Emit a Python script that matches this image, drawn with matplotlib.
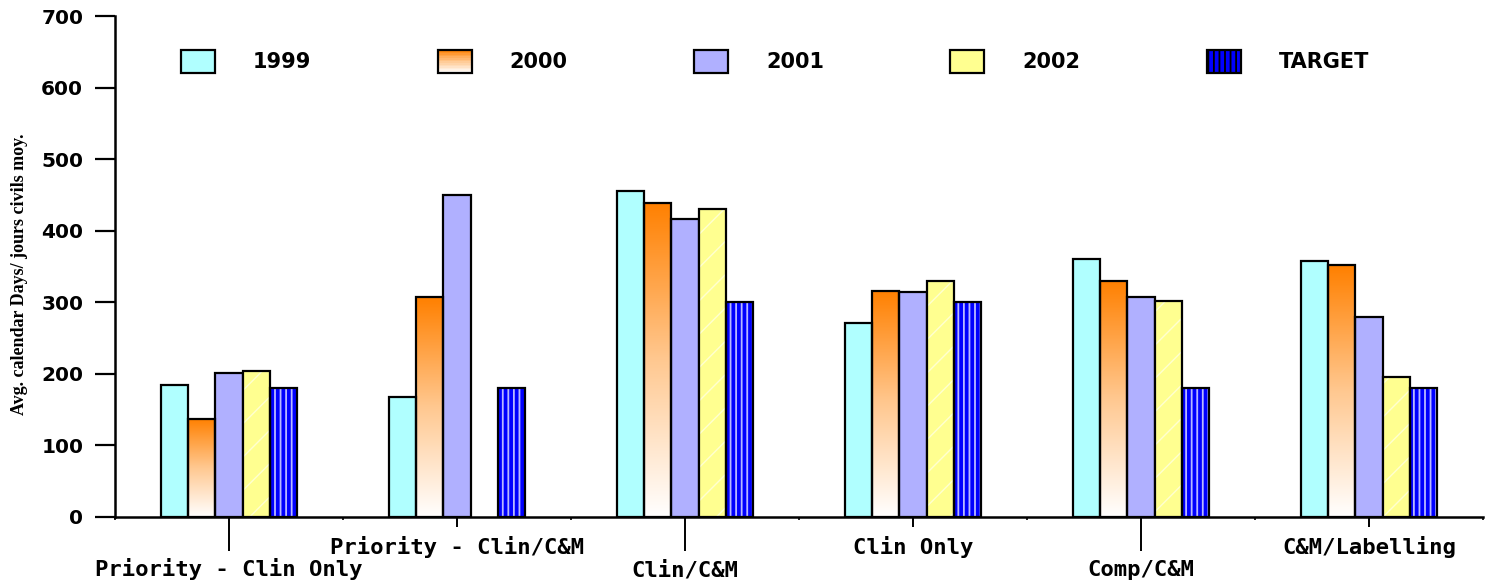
import numpy as np
import matplotlib
matplotlib.use("Agg")
import matplotlib.pyplot as plt
from matplotlib.patches import Rectangle
from matplotlib.legend_handler import HandlerBase
from matplotlib.colors import LinearSegmentedColormap

# ---------------- data ----------------
categories = ["Priority - Clin Only", "Priority - Clin/C&M", "Clin/C&M",
              "Clin Only", "Comp/C&M", "C&M/Labelling"]
series_names = ["1999", "2000", "2001", "2002", "TARGET"]
v1999 = [184, 168, 455, 271, 360, 358]
v2000 = [137, 307, 439, 316, 330, 352]
v2001 = [201, 450, 416, 315, 308, 279]
v2002 = [204, np.nan, 430, 330, 302, 196]
vtarget = [180, 180, 300, 300, 180, 180]
y_ticks = [0, 100, 200, 300, 400, 500, 600, 700]
y_label = "Avg. calendar Days/ jours civils moy."

W, H, DPI = 1497, 582, 100
fig = plt.figure(figsize=(W / DPI, H / DPI), dpi=DPI)
ax = fig.add_axes([115 / W, 1 - 517 / H, (1483 - 115) / W, (517 - 16) / H])

cyan = "#B0FFFF"
orange = "#FF8000"
lav = "#B0B0FF"
yellow = "#FFFF90"
blue = "#0000FF"

x = np.arange(len(categories))
bw = 0.12
offs = (np.arange(5) - 2) * bw
ax.set_xlim(-0.5, len(categories) - 0.5)
ax.set_ylim(0, 700)

orange_cmap = LinearSegmentedColormap.from_list("og", ["#FFFFFF", "#FFC890", orange])
grad = np.linspace(0, 1, 256).reshape(-1, 1)

# 1999
ax.bar(x + offs[0], v1999, bw, color=cyan, edgecolor="black", linewidth=1.6, zorder=3)
# 2000 gradient
bars2000 = ax.bar(x + offs[1], v2000, bw, color="none", edgecolor="black", linewidth=1.6, zorder=4)
for b in bars2000:
    h = b.get_height()
    if not np.isfinite(h) or h <= 0:
        continue
    x0 = b.get_x()
    im = ax.imshow(grad, cmap=orange_cmap, origin="lower", aspect="auto",
                   extent=[x0, x0 + bw, 0, h], zorder=2.5, vmin=0, vmax=1)
    im.set_clip_path(b)
# 2001
ax.bar(x + offs[2], v2001, bw, color=lav, edgecolor="black", linewidth=1.6, zorder=3)
# 2002 with faint diagonal hatch
plt.rcParams["hatch.linewidth"] = 1.0
ax.bar(x + offs[3], v2002, bw, color=yellow, edgecolor="#FFFFD0", linewidth=0,
       hatch="/", zorder=3)
ax.bar(x + offs[3], v2002, bw, color="none", edgecolor="black", linewidth=1.6, zorder=4)
# TARGET with vertical light stripes
plt.rcParams["hatch.linewidth"] = 1.3
ax.bar(x + offs[4], vtarget, bw, color=blue, edgecolor="#B8B8FF", linewidth=0,
       hatch="|||", zorder=3)
ax.bar(x + offs[4], vtarget, bw, color="none", edgecolor="black", linewidth=1.6, zorder=4)

# axes styling
for s in ["top", "right"]:
    ax.spines[s].set_visible(False)
for s in ["left", "bottom"]:
    ax.spines[s].set_linewidth(1.8)
    ax.spines[s].set_zorder(5)

ax.set_yticks(y_ticks)
ax.set_yticklabels([str(t) for t in y_ticks], fontsize=14.5, fontweight="bold",
                   family="DejaVu Sans")
ax.tick_params(axis="y", direction="out", length=14.4, width=1.6, pad=8.5)

ax.set_xticks(x)
ax.set_xticklabels([])
ax.set_xticks(np.arange(len(categories) + 1) - 0.5, minor=True)
ax.tick_params(axis="x", which="minor", direction="out", length=2, width=1.2)
ax.tick_params(axis="x", which="major", direction="out", width=1.4)
for i, t in enumerate(ax.xaxis.get_major_ticks()):
    t.tick1line.set_markersize(24.5 if i % 2 == 0 else 7.5)

for i, c in enumerate(categories):
    off = 59 if i % 2 == 0 else 37
    ax.annotate(c, xy=(x[i], 0), xycoords=("data", "axes fraction"),
                xytext=(0, -off), textcoords="offset pixels", ha="center", va="baseline",
                fontsize=16, fontweight="bold", family="DejaVu Sans Mono",
                annotation_clip=False)

fig.text(20 / W, 1 - 274 / H, y_label, rotation=90, ha="center", va="center",
         fontsize=13, fontweight="bold", family="Liberation Serif")


# legend
class GradHandler(HandlerBase):
    def create_artists(self, legend, orig_handle, xdescent, ydescent, width, height,
                       fontsize, trans):
        arts = []
        n = 14
        for k in range(n):
            frac = (k + 0.5) / n
            col = orange_cmap(frac)
            r = Rectangle((-xdescent, -ydescent + height * k / n), width, height / n + 0.3,
                          facecolor=col, edgecolor="none", transform=trans)
            arts.append(r)
        border = Rectangle((-xdescent, -ydescent), width, height, facecolor="none",
                           edgecolor="black", linewidth=1.6, transform=trans)
        arts.append(border)
        return arts


h1999 = Rectangle((0, 0), 1, 1, facecolor=cyan, edgecolor="black", linewidth=1.6)
h2000 = Rectangle((0, 0), 1, 1, facecolor=orange, edgecolor="black", linewidth=1.6)
h2001 = Rectangle((0, 0), 1, 1, facecolor=lav, edgecolor="black", linewidth=1.6)
h2002 = Rectangle((0, 0), 1, 1, facecolor=yellow, edgecolor="black", linewidth=1.6)
htarget = Rectangle((0, 0), 1, 1, facecolor=blue, edgecolor="black", linewidth=1.6,
                    hatch="|||")

leg = ax.legend([h1999, h2000, h2001, h2002, htarget], series_names,
                handler_map={h2000: GradHandler()},
                ncol=5, frameon=False, loc="upper left",
                bbox_to_anchor=(181 / W, 1 - 50 / H), bbox_transform=fig.transFigure,
                borderpad=0, borderaxespad=0,
                handlelength=1.63, handleheight=1.3, handletextpad=1.83,
                columnspacing=6.06,
                prop={"size": 15, "weight": "bold", "family": "DejaVu Sans"})

fig.savefig("out.png", dpi=DPI)
